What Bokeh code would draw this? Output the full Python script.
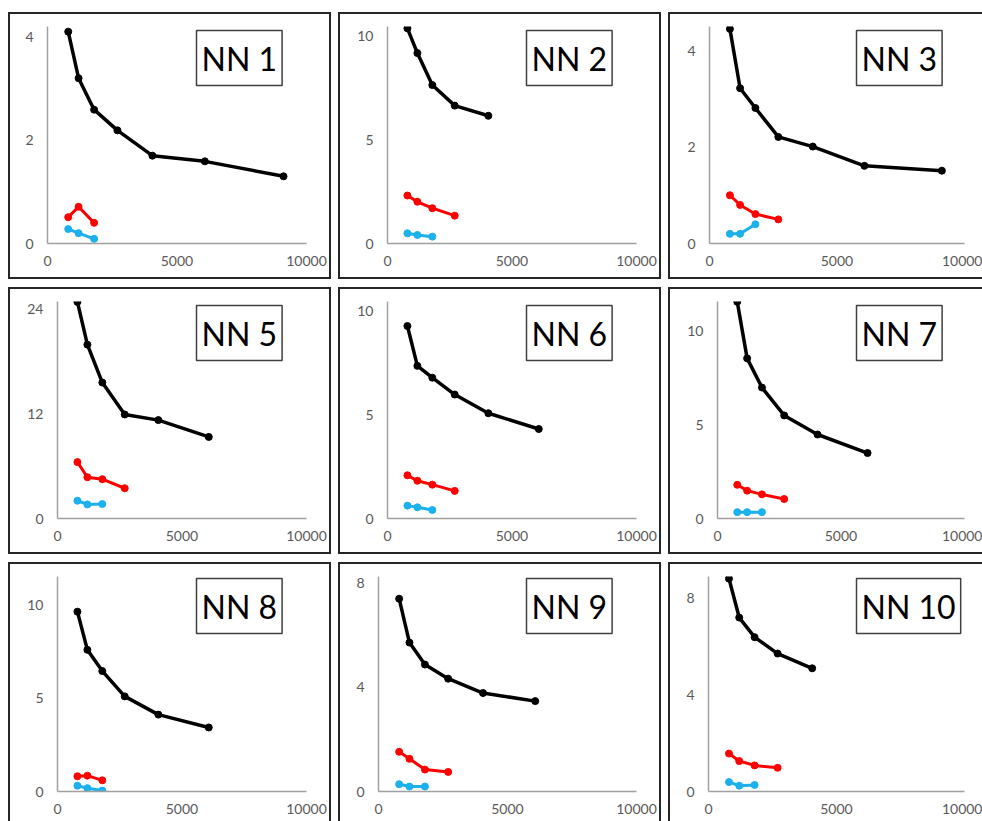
from bokeh.plotting import figure
from bokeh.models import GridBox, Range1d, FixedTicker, Label
from bokeh.embed import file_html
from bokeh.resources import INLINE

# shared x values
x_vals = [800, 1200, 1800, 2700, 4050, 6075, 9113]

titles = ["NN 1", "NN 2", "NN 3", "NN 5", "NN 6", "NN 7", "NN 8", "NN 9", "NN 10"]

black_nn1 = [4.10, 3.20, 2.59, 2.19, 1.70, 1.59, 1.30]
red_nn1 = [0.51, 0.71, 0.40]
blue_nn1 = [0.28, 0.20, 0.09]

black_nn2 = [10.36, 9.17, 7.63, 6.64, 6.15]
red_nn2 = [2.31, 2.01, 1.70, 1.34]
blue_nn2 = [0.49, 0.41, 0.33]

black_nn3 = [4.45, 3.22, 2.81, 2.21, 2.01, 1.61, 1.51]
red_nn3 = [1.00, 0.80, 0.61, 0.50]
blue_nn3 = [0.20, 0.20, 0.40]

black_nn5 = [24.85, 19.95, 15.6, 11.94, 11.29, 9.36]
red_nn5 = [6.47, 4.74, 4.51, 3.47]
blue_nn5 = [2.04, 1.62, 1.66]

black_nn6 = [9.27, 7.35, 6.78, 5.97, 5.07, 4.31]
red_nn6 = [2.08, 1.82, 1.63, 1.33]
blue_nn6 = [0.62, 0.54, 0.41]

black_nn7 = [11.58, 8.56, 7.00, 5.51, 4.49, 3.50]
red_nn7 = [1.80, 1.49, 1.29, 1.04]
blue_nn7 = [0.34, 0.34, 0.34]

black_nn8 = [9.66, 7.61, 6.47, 5.11, 4.13, 3.44]
red_nn8 = [0.82, 0.85, 0.60]
blue_nn8 = [0.31, 0.18, 0.05]

black_nn9 = [7.38, 5.70, 4.86, 4.32, 3.77, 3.46]
red_nn9 = [1.52, 1.25, 0.84, 0.75]
blue_nn9 = [0.28, 0.19, 0.19]

black_nn10 = [8.81, 7.20, 6.39, 5.71, 5.10]
red_nn10 = [1.57, 1.26, 1.08, 0.98]
blue_nn10 = [0.39, 0.24, 0.27]

y_max = [4.2, 10.45, 4.5, 24.9, 10.45, 11.6, 11.55, 8.23, 8.9]
y_ticks = [[0, 2, 4], [0, 5, 10], [0, 2, 4], [0, 12, 24], [0, 5, 10],
           [0, 5, 10], [0, 5, 10], [0, 4, 8], [0, 4, 8]]
x_ticks = [0, 5000, 10000]

series = [
    (black_nn1, red_nn1, blue_nn1), (black_nn2, red_nn2, blue_nn2),
    (black_nn3, red_nn3, blue_nn3), (black_nn5, red_nn5, blue_nn5),
    (black_nn6, red_nn6, blue_nn6), (black_nn7, red_nn7, blue_nn7),
    (black_nn8, red_nn8, blue_nn8), (black_nn9, red_nn9, blue_nn9),
    (black_nn10, red_nn10, blue_nn10),
]

# layout (pixels, relative to each panel's outer box)
frame_left = [39, 49, 41, 49, 49, 49, 49, 40, 40]
FRAME_RIGHT = 294
FRAME_TOP = 14
FRAME_BOTTOM = 227
BORDER = 2
FONT = "Lato"

colors = ["#000000", "#ff0000", "#1cb0ec"]
widths = [3.5, 3.0, 3.0]

children = []
for i in range(9):
    r, c = divmod(i, 3)
    w_outer = 323 if c < 2 else 314
    h_outer = 267 if r < 2 else 259
    bl, bt = BORDER, BORDER
    br = BORDER if c < 2 else 0
    bb = BORDER if r < 2 else 0
    w = w_outer - bl - br
    h = h_outer - bt - bb
    fl = frame_left[i]
    p = figure(width=w, height=h, output_backend="svg", toolbar_location=None,
               x_range=Range1d(0, 10000), y_range=Range1d(0, y_max[i]),
               min_border_left=fl - bl, min_border_right=w_outer - br - FRAME_RIGHT,
               min_border_top=FRAME_TOP - bt, min_border_bottom=h_outer - bb - FRAME_BOTTOM)
    p.frame_align = False
    p.grid.visible = False
    p.outline_line_color = None
    p.background_fill_color = "white"
    p.border_fill_color = "white"
    for ax in (p.xaxis[0], p.yaxis[0]):
        ax.axis_line_color = "#a0a0a0"
        ax.axis_line_width = 1.5
        ax.major_tick_line_color = None
        ax.minor_tick_line_color = None
        ax.major_tick_out = 0
        ax.major_tick_in = 0
        ax.major_label_text_font = FONT
        ax.major_label_text_font_size = "14px"
        ax.major_label_text_color = "#595959"
    p.xaxis.ticker = FixedTicker(ticks=x_ticks)
    p.yaxis.ticker = FixedTicker(ticks=y_ticks[i])
    p.xaxis.major_label_standoff = 12
    p.yaxis.major_label_standoff = 14

    for vals, col, lw in zip(series[i], colors, widths):
        xs = x_vals[:len(vals)]
        p.line(xs, vals, line_color=col, line_width=lw)
        p.scatter(xs, vals, size=7, fill_color=col, line_color=col)

    frame_h = FRAME_BOTTOM - FRAME_TOP
    lab = Label(x=188 - fl, y=frame_h, x_units="screen", y_units="screen",
                text=titles[i], text_font=FONT, text_font_size="32px",
                text_color="black", anchor="top_left",
                border_line_color="#404040", border_line_width=1.5,
                background_fill_color="white",
                padding=dict(left=5, right=5, top=8, bottom=8))
    p.add_layout(lab)

    border_css = {"box-sizing": "content-box",
                  "border-left": f"{bl}px solid #262626",
                  "border-top": f"{bt}px solid #262626"}
    if br:
        border_css["border-right"] = f"{br}px solid #262626"
    if bb:
        border_css["border-bottom"] = f"{bb}px solid #262626"
    p.styles = border_css
    children.append((p, r, c))

grid = GridBox(children=children, spacing=(8, 7))
grid.margin = (12, 0, 0, 8)

open("out.html", "w").write(file_html(grid, INLINE))
